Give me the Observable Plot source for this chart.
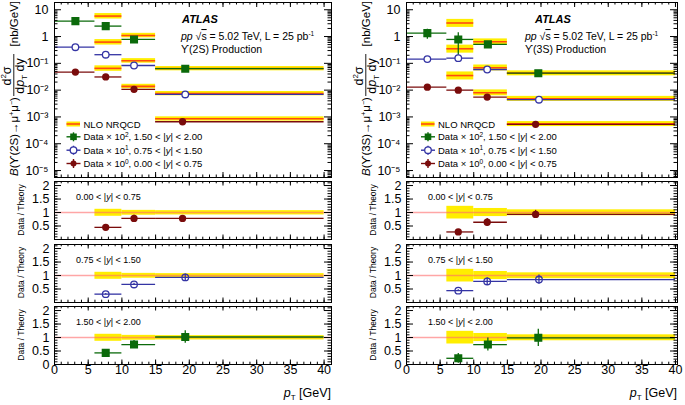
<!DOCTYPE html>
<html><head><meta charset="utf-8">
<script src="https://cdn.jsdelivr.net/npm/d3@7"></script>
<script src="https://cdn.jsdelivr.net/npm/@observablehq/plot@0.6"></script>
<style>
body{margin:0;background:#fff;}
#root{position:relative;width:685px;height:405px;overflow:hidden;font-family:'Liberation Sans',Arial,Helvetica,sans-serif;}
#root svg{position:absolute;}
</style>
</head><body><div id="root"></div>
<script>
// ---------------- data ----------------
const ptLow  = [0, 6, 10, 15];
const ptHigh = [6, 10, 15, 40];
const rapLabels = ["0.00 < |y| < 0.75", "0.75 < |y| < 1.50", "1.50 < |y| < 2.00"];
const yLogTicks  = [1e-5, 1e-4, 1e-3, 1e-2, 1e-1, 1, 10];
const yLogLabels = ["10⁻⁵", "10⁻⁴", "10⁻³", "10⁻²", "10⁻¹", "1", "10"];
const ratioTicks = [0, 0.5, 1, 1.5, 2];
const xTicks = [0, 5, 10, 15, 20, 25, 30, 35, 40];

// Υ(2S): index 0 -> 0.00<|y|<0.75 (×10⁰), 1 -> 0.75<|y|<1.50 (×10¹), 2 -> 1.50<|y|<2.00 (×10²)
const s2_pt0 = [3.1, 7.6, 11.8, 19.0];
const s2_pt1 = [3.1, 7.6, 11.8, 19.4];
const s2_pt2 = [3.1, 7.6, 11.8, 19.4];
const s2_data0 = [0.047, 0.031, 0.0107, 0.00066];
const s2_data1 = [0.40, 0.21, 0.083, 0.0069];
const s2_data2 = [3.76, 2.45, 0.78, 0.063];
const s2_err0 = [0.003, 0.002, 0.0012, 0.00005];
const s2_err1 = [0.02, 0.012, 0.005, 0.0006];
const s2_err2 = [0.3, 0.3, 0.12, 0.012];
const s2_theory0 = [0.065, 0.0138, 0.00085];
const s2_theory1 = [0.62, 0.125, 0.0075];
const s2_theory2 = [5.8, 1.1, 0.064];
const s2_ratio0 = [0.45, 0.78, 0.78];
const s2_ratio1 = [0.31, 0.67, 0.93];
const s2_ratio2 = [0.43, 0.74, 1.02];
const s2_ratioErr0 = [0.03, 0.12, 0.05];
const s2_ratioErr1 = [0.02, 0.04, 0.13];
const s2_ratioErr2 = [0.06, 0.15, 0.23];
const s2_bandLo = [0.86, 0.90, 0.91];
const s2_bandHi = [1.12, 1.08, 1.07];

// Υ(3S)
const s3_pt0 = [3.1, 7.7, 12.0, 19.2];
const s3_pt1 = [3.1, 7.7, 12.0, 19.7];
const s3_pt2 = [3.1, 7.7, 12.1, 19.6];
const s3_data0 = [0.0129, 0.010, 0.0055, 0.00053];
const s3_data1 = [0.144, 0.156, 0.059, 0.0044];
const s3_data2 = [1.34, 0.78, 0.51, 0.043];
const s3_err0 = [0.0015, 0.001, 0.0012, 0.00007];
const s3_err1 = [0.015, 0.012, 0.007, 0.0006];
const s3_err2 = [0.55, 0.6, 0.1, 0.011];
const s3_theory0 = [0.035, 0.0080, 0.00055];
const s3_theory1 = [0.35, 0.068, 0.0048];
const s3_theory2 = [3.2, 0.64, 0.043];
const s3_ratio0 = [0.28, 0.64, 0.93];
const s3_ratio1 = [0.44, 0.78, 0.85];
const s3_ratio2 = [0.23, 0.74, 0.99];
const s3_ratioErr0 = [0.03, 0.14, 0.15];
const s3_ratioErr1 = [0.03, 0.14, 0.17];
const s3_ratioErr2 = [0.18, 0.24, 0.32];
const s3_bandLo = [0.76, 0.85, 0.88];
const s3_bandHi = [1.23, 1.15, 1.10];

// ---------------- style ----------------
const FONT = "'Liberation Sans', Arial, Helvetica, sans-serif";
const YEL = "#ffee00", ORG = "#ff4a10", PINK = "#ff6a6a";
const COLORS = ["#7a0c0c", "#3434a4", "#0b6a0b"];
const root = document.getElementById("root");

function minorLog(lo, hi) {
  const out = [];
  for (let e = -6; e <= 1; e++) for (let m = 2; m <= 9; m++) { const v = m * 10 ** e; if (v >= lo && v <= hi) out.push(v); }
  return out;
}
function frameTicks(xMaj, xMin, yMaj, yMin, fw, fh, xl, yl) {
  const s = {stroke: "black", strokeWidth: 1};
  return [
    Plot.tickX(xMaj, {x: d => d, insetTop: fh - xl[0], ...s}),
    Plot.tickX(xMaj, {x: d => d, insetBottom: fh - xl[0], ...s}),
    Plot.tickX(xMin, {x: d => d, insetTop: fh - xl[1], ...s}),
    Plot.tickX(xMin, {x: d => d, insetBottom: fh - xl[1], ...s}),
    Plot.tickY(yMaj, {y: d => d, insetRight: fw - yl[0], ...s}),
    Plot.tickY(yMaj, {y: d => d, insetLeft: fw - yl[0], ...s}),
    Plot.tickY(yMin, {y: d => d, insetRight: fw - yl[1], ...s}),
    Plot.tickY(yMin, {y: d => d, insetLeft: fw - yl[1], ...s}),
  ];
}
function place(svg, left, top) { svg.style.left = left + "px"; svg.style.top = top + "px"; root.appendChild(svg); }

function seriesRows(pt, data, err) {
  return ptLow.map((lo, i) => ({lo, hi: ptHigh[i], pt: pt[i], v: data[i], e: err[i]}));
}
function theoryRows(th, bLo, bHi) {
  return th.map((v, i) => ({lo: ptLow[i + 1], hi: ptHigh[i + 1], v, a: v * bLo[i], b: v * bHi[i]}));
}
function ratioRows(pt, r, re) {
  return r.map((v, i) => ({lo: ptLow[i + 1], hi: ptHigh[i + 1], pt: pt[i + 1], v, e: re[i]}));
}
function dataMarks(rows, k, inRatio) {
  const c = COLORS[k];
  const marks = [
    Plot.ruleY(rows, {y: "v", x1: "lo", x2: "hi", stroke: c, strokeWidth: 1.3}),
    Plot.ruleX(rows, {x: "pt", y1: d => d.v - d.e, y2: d => d.v + d.e, stroke: c, strokeWidth: 1.3})
  ];
  if (k === 2) marks.push(Plot.dot(rows, {x: "pt", y: "v", symbol: "square", r: 3.7, fill: c, stroke: c}));
  else if (k === 1) marks.push(Plot.dot(rows, {x: "pt", y: "v", r: 3.3, fill: inRatio ? "none" : "white", stroke: c, strokeWidth: 1.3}));
  else marks.push(Plot.dot(rows, {x: "pt", y: "v", r: 2.9, fill: c, stroke: c}));
  return marks;
}

const figs = [
  {state: "2S", left: 0, width: 342, frameL: 54, frameR: 331, xmax: 41.1,
   pts: [s2_pt0, s2_pt1, s2_pt2], data: [s2_data0, s2_data1, s2_data2], err: [s2_err0, s2_err1, s2_err2],
   th: [s2_theory0, s2_theory1, s2_theory2], ratio: [s2_ratio0, s2_ratio1, s2_ratio2],
   rerr: [s2_ratioErr0, s2_ratioErr1, s2_ratioErr2], bLo: s2_bandLo, bHi: s2_bandHi},
  {state: "3S", left: 345, width: 340, frameL: 406, frameR: 677, xmax: 40.3,
   pts: [s3_pt0, s3_pt1, s3_pt2], data: [s3_data0, s3_data1, s3_data2], err: [s3_err0, s3_err1, s3_err2],
   th: [s3_theory0, s3_theory1, s3_theory2], ratio: [s3_ratio0, s3_ratio1, s3_ratio2],
   rerr: [s3_ratioErr0, s3_ratioErr1, s3_ratioErr2], bLo: s3_bandLo, bHi: s3_bandHi}
];

const yDom = [10 ** -5.26, 10 ** 1.27];
const xMinor = d3.range(0, 41, 1);
const rMinor = d3.range(0, 2.15, 0.1);

for (const f of figs) {
  const mL = f.frameL - f.left, mR = f.left + f.width - f.frameR;
  const fw = f.frameR - f.frameL;
  const style = {fontFamily: FONT, fontSize: "12.5px", background: "transparent", overflow: "visible", color: "black"};
  // main panel
  const mainMarks = [];
  for (let k = 2; k >= 0; k--) {
    const tr = theoryRows(f.th[k], f.bLo, f.bHi);
    mainMarks.push(Plot.rect(tr, {x1: "lo", x2: "hi", y1: "a", y2: "b", fill: YEL, insetTop: -1.2, insetBottom: -1.2}));
    mainMarks.push(Plot.ruleY(tr, {y: "v", x1: "lo", x2: "hi", stroke: ORG, strokeWidth: 1.6}));
  }
  for (let k = 2; k >= 0; k--) mainMarks.push(...dataMarks(seriesRows(f.pts[k], f.data[k], f.err[k]), k, false));
  const labelMap = new Map(yLogTicks.map((t, i) => [t, yLogLabels[i]]));
  const main = Plot.plot({
    width: f.width, height: 180, marginLeft: mL, marginRight: mR, marginTop: 2, marginBottom: 3,
    style,
    x: {domain: [0, f.xmax], axis: null},
    y: {type: "log", domain: yDom, axis: null},
    marks: [
      ...mainMarks,
      ...frameTicks(xTicks, xMinor, yLogTicks, minorLog(yDom[0], yDom[1]), fw, 175, [5, 2.5], [7, 3.5]),
      Plot.axisY({ticks: yLogTicks, tickFormat: d => labelMap.get(d), tickSize: 0, tickPadding: 6, label: null, fontSize: 12.5}),
      Plot.frame({stroke: "black"})
    ]
  });
  place(main, f.left, 0);

  // ratio panels
  const frameTops = [181, 243.5, 306];
  for (let k = 0; k < 3; k++) {
    const last = k === 2;
    const band = f.bLo.map((lo, i) => ({lo: ptLow[i + 1], hi: ptHigh[i + 1], a: lo, b: f.bHi[i]}));
    const rows = ratioRows(f.pts[k], f.ratio[k], f.rerr[k]);
    const marks = [
      Plot.rect(band, {x1: "lo", x2: "hi", y1: "a", y2: "b", fill: YEL}),
      Plot.ruleY([1], {x1: 0, x2: f.xmax, stroke: PINK, strokeWidth: 1.4, strokeOpacity: 0.6}),
      ...dataMarks(rows, k, true),
      ...frameTicks(xTicks, xMinor, ratioTicks, rMinor, fw, 58, [4.5, 2.3], [7, 3.5]),
      Plot.axisY({ticks: last ? ratioTicks : ratioTicks.slice(1), tickFormat: d => String(d), tickSize: 0, tickPadding: 5, label: null, fontSize: 12.5}),
      Plot.frame({stroke: "black"})
    ];
    if (last) marks.push(Plot.axisX({ticks: xTicks, tickFormat: d => String(d), tickSize: 0, tickPadding: 1, label: null, fontSize: 12.5}));
    const p = Plot.plot({
      width: f.width, height: 58 + 4 + (last ? 22 : 4), marginLeft: mL, marginRight: mR, marginTop: 4, marginBottom: last ? 22 : 4,
      style,
      x: last ? {domain: [0, f.xmax]} : {domain: [0, f.xmax], axis: null},
      y: {domain: [0, 2.15], axis: null},
      marks
    });
    place(p, f.left, frameTops[k] - 4);
  }
}

// ---------------- annotations ----------------
const ov = d3.select(root).append("svg").attr("width", 685).attr("height", 405)
  .style("left", "0px").style("top", "0px").attr("font-family", FONT);
function txt(x, y, html, o = {}) {
  const t = ov.append("text").attr("x", x).attr("y", y).attr("font-size", o.size || 11);
  if (o.anchor) t.attr("text-anchor", o.anchor);
  if (o.weight) t.attr("font-weight", o.weight);
  if (o.fstyle) t.attr("font-style", o.fstyle);
  if (o.transform) t.attr("transform", o.transform);
  t.html(html);
  return t;
}
const sup = (s, sz = 7, d = 4) => `<tspan dy="-${d}" font-size="${sz}">${s}</tspan><tspan dy="${d}">`;
const scaleExp = ["0", "1", "2"];

for (const f of figs) {
  const ox = f.frameL - 54;           // horizontal offset of this figure
  const st = f.state;
  // y-axis title (rotated)
  const g = ov.append("g").attr("transform", `translate(${ox},177) rotate(-90)`).attr("font-size", 11.5);
  g.append("text").attr("x", 1).attr("y", 18).html(
    `<tspan font-style="italic">B</tspan>(ϒ(${st})→μ${sup("+", 7, 4)}μ</tspan>${sup("−", 7, 4)})</tspan>`);
  g.append("text").attr("x", 101).attr("y", 11).attr("text-anchor", "middle").attr("font-size", 12.5).html(`d${sup("2", 8, 5)}σ</tspan>`);
  g.append("line").attr("x1", 81).attr("x2", 123).attr("y1", 13.8).attr("y2", 13.8).attr("stroke", "black").attr("stroke-width", 0.9);
  g.append("text").attr("x", 101).attr("y", 24).attr("text-anchor", "middle").attr("font-size", 12.5)
    .html(`d<tspan font-style="italic">p</tspan><tspan dy="3" font-size="8">T</tspan><tspan dy="-3"> dy</tspan>`);
  g.append("text").attr("x", 176).attr("y", 18).attr("text-anchor", "end").text("[nb/GeV]");

  // ATLAS label
  const tx = st === "2S" ? 181 : 525;
  txt(tx + (st === "2S" ? 1 : 10), 22.5, "ATLAS", {weight: "bold", fstyle: "italic", size: 11});
  txt(tx, 40, `<tspan font-style="italic">pp</tspan> √<tspan text-decoration="overline">s</tspan> = 5.02 TeV, L = 25 pb${sup("-1", 6.5, 4)}</tspan>`, {size: 10.5});
  txt(tx, 53, `ϒ(${st}) Production`, {size: 10.5});

  // legend
  const lx = st === "2S" ? 66.5 : 421;
  ov.append("rect").attr("x", lx).attr("y", 121.5).attr("width", 13.5).attr("height", 5).attr("fill", YEL);
  ov.append("line").attr("x1", lx).attr("x2", lx + 13.5).attr("y1", 124).attr("y2", 124).attr("stroke", ORG).attr("stroke-width", 1.6);
  txt(lx + 17, 127.5, "NLO NRQCD", {size: 9.5});
  const rowsY = [163.5, 150.2, 136.8];
  for (let k = 2; k >= 0; k--) {
    const y = rowsY[k], c = COLORS[k], mx = lx + 7;
    ov.append("line").attr("x1", lx).attr("x2", lx + 14).attr("y1", y).attr("y2", y).attr("stroke", c).attr("stroke-width", 1.4);
    ov.append("line").attr("x1", mx).attr("x2", mx).attr("y1", y - 4.5).attr("y2", y + 4.5).attr("stroke", c).attr("stroke-width", 1.4);
    if (k === 2) ov.append("rect").attr("x", mx - 3.3).attr("y", y - 3.3).attr("width", 6.6).attr("height", 6.6).attr("fill", c);
    else if (k === 1) ov.append("circle").attr("cx", mx).attr("cy", y).attr("r", 3.3).attr("fill", "white").attr("stroke", c).attr("stroke-width", 1.3);
    else ov.append("circle").attr("cx", mx).attr("cy", y).attr("r", 3).attr("fill", c);
    const parts = rapLabels[k].split("|y|");
    txt(lx + 17, y + 3.5, `Data × 10${sup(scaleExp[k], 6.5, 3.5)}, ${parts[0].replace(/</g, "&lt;")}|<tspan font-style="italic">y</tspan>|${parts[1].replace(/</g, "&lt;")}</tspan>`, {size: 9.5});
  }

  // ratio panel labels
  const frameTops = [181, 243.5, 306];
  for (let k = 0; k < 3; k++) {
    const parts = rapLabels[k].split("|y|");
    txt(f.frameL + 22, frameTops[k] + 19, `${parts[0].replace(/</g, "&lt;")}|<tspan font-style="italic">y</tspan>|${parts[1].replace(/</g, "&lt;")}`, {size: 9});
    txt(0, 0, "Data / Theory", {size: 8.5, anchor: "middle", transform: `translate(${ox + 23.5},${frameTops[k] + 29}) rotate(-90)`});
  }
  // x title
  txt(f.frameR, 397, `<tspan font-style="italic">p</tspan><tspan dy="3" font-size="8">T</tspan><tspan dy="-3"> [GeV]</tspan>`, {size: 12.5, anchor: "end"});
}
</script>
</body></html>
